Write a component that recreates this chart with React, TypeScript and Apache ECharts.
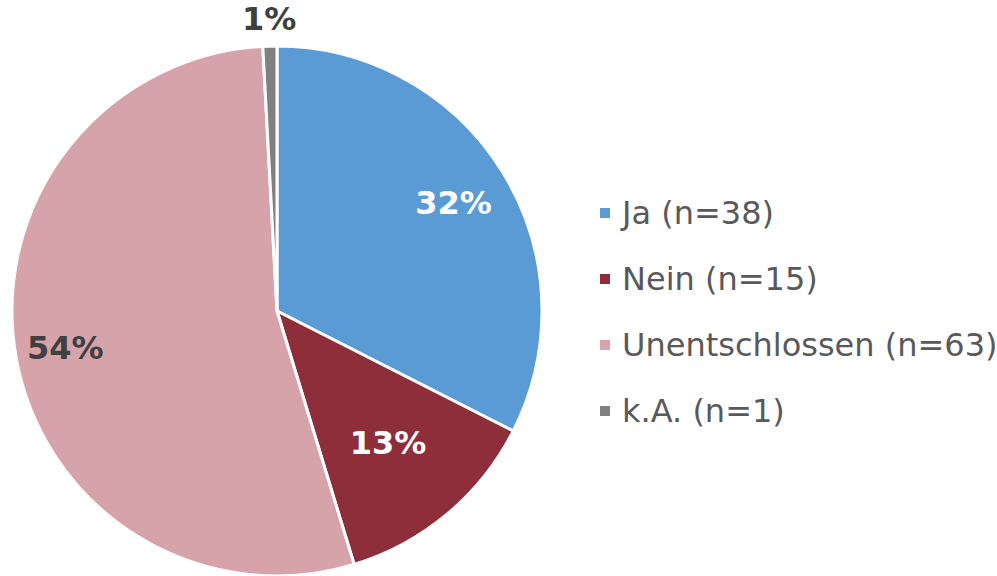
import React, { useEffect, useRef } from "react";
import * as echarts from "echarts";

const categories = ["Ja (n=38)", "Nein (n=15)", "Unentschlossen (n=63)", "k.A. (n=1)"];
const values = [38, 15, 63, 1];
const colors = ["#5B9BD5", "#8E2E3A", "#D6A3AA", "#808080"];
const labelColors = ["#FFFFFF", "#FFFFFF", "#404040", "#404040"];

export default function App() {
  const ref = useRef<HTMLDivElement>(null);
  useEffect(() => {
    if (!ref.current) return;
    const chart = echarts.init(ref.current, undefined, { renderer: "svg" });
    const center = [277, 311];
    const R = 265;
    // radial position (fraction of radius) of each slice's label
    const labelRadius = [0.77, 0.64, 0.8, 1.09];
    const labelFont = {
      fontFamily: "DejaVu Sans, Verdana, sans-serif",
      fontWeight: "bold" as const,
      fontSize: 32,
    };
    const fmt = (p: any) => Math.round(p.percent) + "%";
    const overlay = (idx: number) => {
      const mid = labelRadius[idx] * R;
      const half = Math.min(mid, R * 0.4);
      return {
        type: "pie",
        center,
        radius: [mid - half, mid + half],
        startAngle: 90,
        clockwise: true,
        silent: true,
        legendHoverLink: false,
        itemStyle: { color: "rgba(0,0,0,0)" },
        labelLine: { show: false },
        emphasis: { disabled: true },
        data: categories.map((name, i) => ({
          name,
          value: values[i],
          label: {
            show: i === idx,
            position: "inside",
            formatter: fmt,
            color: labelColors[i],
            ...labelFont,
          },
        })),
      };
    };
    chart.setOption({
      animation: false,
      backgroundColor: "#FFFFFF",
      legend: {
        orient: "vertical",
        left: 598,
        top: 195,
        padding: 0,
        icon: "rect",
        itemWidth: 12,
        itemHeight: 12,
        itemGap: 30,
        data: categories,
        textStyle: {
          fontFamily: "DejaVu Sans, Verdana, sans-serif",
          fontSize: 32,
          color: "#595959",
          lineHeight: 36,
          padding: [0, 0, 0, 6],
        },
      },
      series: [
        {
          type: "pie",
          center,
          radius: [0, R],
          startAngle: 90,
          clockwise: true,
          label: { show: false },
          labelLine: { show: false },
          itemStyle: { borderColor: "#FFFFFF", borderWidth: 3 },
          emphasis: { disabled: true },
          data: categories.map((name, i) => ({
            name,
            value: values[i],
            itemStyle: { color: colors[i] },
          })),
        },
        overlay(0),
        overlay(1),
        overlay(2),
        overlay(3),
      ],
    });
    return () => chart.dispose();
  }, []);
  return (
    <div
      ref={ref}
      style={{ position: "fixed", left: 0, top: 0, width: 997, height: 576 }}
    />
  );
}
